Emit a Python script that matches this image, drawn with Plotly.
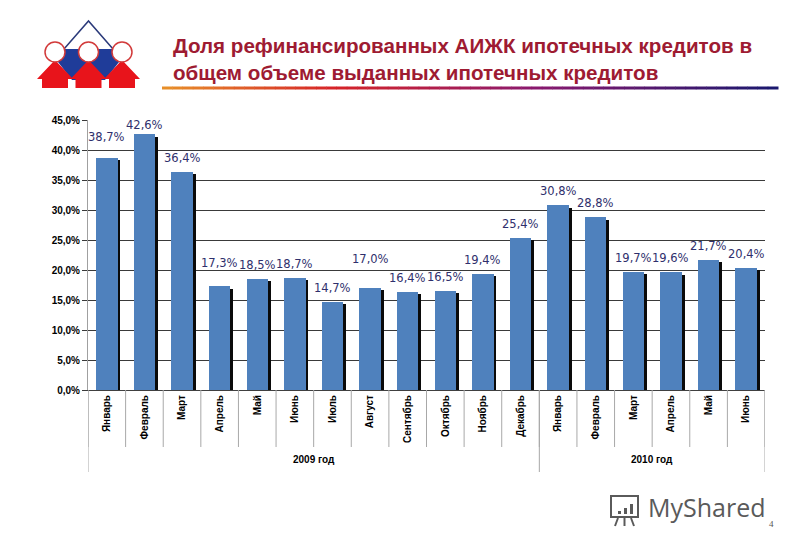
import plotly.graph_objects as go

# ---------------- data ----------------
months = ["Январь", "Февраль", "Март", "Апрель", "Май", "Июнь", "Июль", "Август",
          "Сентябрь", "Октябрь", "Ноябрь", "Декабрь",
          "Январь", "Февраль", "Март", "Апрель", "Май", "Июнь"]
values = [38.7, 42.6, 36.4, 17.3, 18.5, 18.7, 14.7, 17.0, 16.4, 16.5, 19.4, 25.4,
          30.8, 28.8, 19.7, 19.6, 21.7, 20.4]
years = ["2009 год", "2010 год"]
year_sizes = [12, 6]
y_ticks = [0, 5, 10, 15, 20, 25, 30, 35, 40, 45]
title_text = "Доля рефинансированных АИЖК ипотечных кредитов в<br>общем объеме выданных ипотечных кредитов"

# ---------------- layout geometry ----------------
W, H = 800, 554
L, R, T, B = 88, 765, 120, 390
def px(x):
    return (x - L) / (R - L)
def py(y):
    return (B - y) / (B - T)

xs = list(range(len(values)))
BAR_W = 0.57
BLUE = "#4F81BD"
LABEL_COL = "#2F2F6C"

fig = go.Figure()
# shadow bars
fig.add_trace(go.Bar(x=xs, y=values, base=-0.4, width=BAR_W, offset=-BAR_W / 2 + 0.075,
                     marker=dict(color="#0a0a0a", line=dict(width=0)),
                     hoverinfo="skip", showlegend=False))
fig.add_trace(go.Bar(x=xs, y=values, width=BAR_W, offset=-BAR_W / 2,
                     marker=dict(color=BLUE, line=dict(width=0)), showlegend=False))

ann = []
# data labels
extra_shift = {0: 7, 1: -5, 3: 9, 7: 15}
for i, v in enumerate(values):
    ann.append(dict(x=i, y=v, xref="x", yref="y", yanchor="middle", xanchor="center",
                    yshift=14 + extra_shift.get(i, 0), showarrow=False,
                    text=f"{v:.1f}".replace(".", ",") + "%",
                    font=dict(family="DejaVu Sans", size=11.5, color=LABEL_COL)))

# year labels + separators
shapes = []
start = 0
for name, n in zip(years, year_sizes):
    ann.append(dict(x=start + (n - 1) / 2, y=py(467), xref="x", yref="paper",
                    text=f"<b>{name}</b>", showarrow=False,
                    font=dict(family="Liberation Sans", size=10, color="black")))
    start += n
for i in range(len(values) + 1):
    shapes.append(dict(type="line", xref="x", yref="paper", x0=i - 0.5, x1=i - 0.5,
                       y0=0, y1=py(447), line=dict(color="#A8A8A8", width=1)))
bounds = [0]
for n in year_sizes:
    bounds.append(bounds[-1] + n)
for b in bounds:
    shapes.append(dict(type="line", xref="x", yref="paper", x0=b - 0.5, x1=b - 0.5,
                       y0=0, y1=py(472), line=dict(color="#A8A8A8", width=1)))

# title
ann.append(dict(x=px(171), y=py(59), xref="paper", yref="paper", xanchor="left",
                yanchor="middle", align="left", showarrow=False,
                text=f"<b>{title_text}</b>",
                font=dict(family="Liberation Sans", size=20.6, color="#9E1B32")))

# gradient underline
stops = [(0.0, (232, 146, 42)), (0.28, (214, 36, 40)), (0.6, (140, 26, 110)), (1.0, (24, 24, 110))]
def grad(t):
    for (t0, c0), (t1, c1) in zip(stops[:-1], stops[1:]):
        if t <= t1:
            f = (t - t0) / (t1 - t0)
            return "rgb(%d,%d,%d)" % tuple(int(c0[k] + (c1[k] - c0[k]) * f) for k in range(3))
    return "rgb(%d,%d,%d)" % stops[-1][1]
N = 60
x_start, x_end = 162, 778
for k in range(N):
    a = x_start + (x_end - x_start) * k / N
    b = x_start + (x_end - x_start) * (k + 1) / N + 0.5
    shapes.append(dict(type="line", xref="paper", yref="paper", x0=px(a), x1=px(b),
                       y0=py(88), y1=py(88), line=dict(color=grad((k + 0.5) / N), width=3)))

# logo
def path(points):
    return "M " + " L ".join(f"{px(x)},{py(y)}" for x, y in points) + " Z"
LRED = "#E8141B"
LBLUE = "#1F3C99"
shapes.append(dict(type="path", xref="paper", yref="paper", line=dict(width=0),
                   fillcolor=LBLUE,
                   path=path([(58, 49), (119, 49), (119, 62), (105, 80), (72, 80), (58, 62)])))
for cx in (55, 88.5, 122):
    shapes.append(dict(type="path", xref="paper", yref="paper", line=dict(width=0),
                       fillcolor=LRED,
                       path=path([(cx, 60), (cx + 18, 79), (cx + 13, 79), (cx + 13, 88),
                                  (cx - 13, 88), (cx - 13, 79), (cx - 18, 79)])))
shapes.append(dict(type="path", xref="paper", yref="paper", fillcolor="rgba(0,0,0,0)",
                   line=dict(color="#2B3A7A", width=1.5),
                   path="M " + f"{px(64)},{py(49)} L {px(88.5)},{py(21)} L {px(113)},{py(49)}"))
for cx in (55, 88.5, 122):
    shapes.append(dict(type="circle", xref="paper", yref="paper",
                       x0=px(cx - 10), x1=px(cx + 10), y0=py(62), y1=py(42),
                       fillcolor="white", line=dict(color="#D23A3A", width=1.5)))

# watermark
ann.append(dict(x=px(646), y=py(507), xref="paper", yref="paper", xanchor="left",
                yanchor="middle", showarrow=False, text="MyShared",
                font=dict(family="Open Sans", size=25, color="#5A5A5A")))
shapes.append(dict(type="rect", xref="paper", yref="paper", x0=px(611), x1=px(638),
                   y0=py(517), y1=py(496), line=dict(color="#5A5A5A", width=2),
                   fillcolor="rgba(0,0,0,0)"))
for bx, top in ((618, 511), (624, 508), (630, 504)):
    shapes.append(dict(type="rect", xref="paper", yref="paper", x0=px(bx), x1=px(bx + 3),
                       y0=py(514), y1=py(top), line=dict(width=0), fillcolor="#5A5A5A"))
for lx0, lx1 in ((618, 615), (624.5, 624.5), (631, 634)):
    shapes.append(dict(type="line", xref="paper", yref="paper", x0=px(lx0), x1=px(lx1),
                       y0=py(518), y1=py(526), line=dict(color="#5A5A5A", width=2)))
ann.append(dict(x=px(776), y=py(531), xref="paper", yref="paper", showarrow=False,
                text="4", font=dict(family="Liberation Serif", size=9, color="#555555")))

fig.update_layout(
    width=W, height=H, autosize=False,
    margin=dict(l=L, r=W - R, t=T, b=H - B),
    paper_bgcolor="white", plot_bgcolor="white",
    barmode="overlay", bargap=0,
    annotations=ann, shapes=shapes,
    xaxis=dict(range=[-0.5, len(values) - 0.5], tickmode="array", tickvals=xs,
               ticktext=[f"<b>{m}</b>" for m in months], tickangle=-90,
               tickfont=dict(family="Liberation Sans", size=10, color="black"),
               showgrid=False, zeroline=False, showline=True, linecolor="#404040",
               linewidth=1, ticks="", fixedrange=True),
    yaxis=dict(range=[0, 45], tickmode="array", tickvals=y_ticks,
               ticktext=[f"<b>{v:.1f}%</b>".replace(".", ",") for v in y_ticks],
               tickfont=dict(family="Liberation Sans", size=10, color="black"),
               showgrid=True, gridcolor="#3A3A3A", gridwidth=1, zeroline=False,
               showline=True, linecolor="#A0A0A0", linewidth=1,
               ticks="outside", ticklen=5, tickcolor="#3A3A3A", fixedrange=True),
)

fig.write_html("out.html", config={"displayModeBar": False},
               post_script="document.body.style.margin='0';document.body.style.overflow='hidden';")
